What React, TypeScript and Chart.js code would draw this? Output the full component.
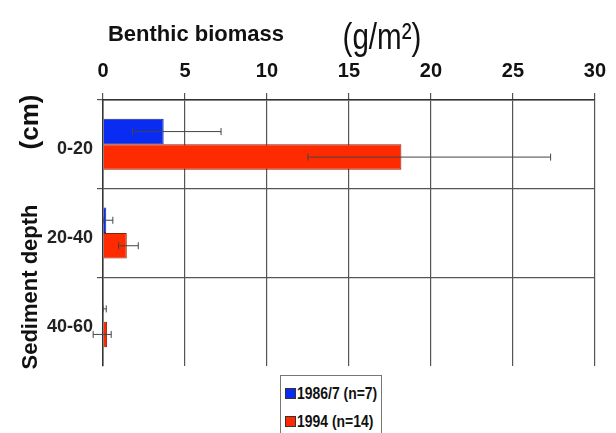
import React, { useEffect, useRef } from 'react';
import { Chart, registerables } from 'chart.js';
Chart.register(...registerables);

const categories = ['0-20', '20-40', '40-60'];
const seriesLabels = ['1986/7 (n=7)', '1994 (n=14)'];
const series1986 = [3.7, 0.2, 0.05];
const err1986Low = [1.8, 0.0, 0.0];
const err1986High = [7.2, 0.6, 0.2];
const series1994 = [18.2, 1.45, 0.25];
const err1994Low = [12.5, 0.95, -0.6];
const err1994High = [27.3, 2.15, 0.5];
const xMin = 0;
const xMax = 30;
const xStep = 5;

const BLUE = '#0a2cf2';
const RED = '#ff2b00';
const SANS = '"Liberation Sans", Arial, sans-serif';

const errorBars = {
  id: 'errorBars',
  afterDatasetsDraw(chart: any) {
    const ctx = chart.ctx;
    const xs = chart.scales.x;
    chart.data.datasets.forEach((ds: any, di: number) => {
      const meta = chart.getDatasetMeta(di);
      meta.data.forEach((bar: any, i: number) => {
        const y = bar.y;
        const x1 = xs.getPixelForValue(ds.errLow[i]);
        const x2 = xs.getPixelForValue(ds.errHigh[i]);
        ctx.save();
        ctx.strokeStyle = '#444';
        ctx.lineWidth = 1;
        ctx.beginPath();
        ctx.moveTo(x1, y);
        ctx.lineTo(x2, y);
        ctx.moveTo(x1, y - 3.5);
        ctx.lineTo(x1, y + 3.5);
        ctx.moveTo(x2, y - 3.5);
        ctx.lineTo(x2, y + 3.5);
        ctx.stroke();
        ctx.restore();
      });
    });
  },
};

export default function App() {
  const ref = useRef<HTMLCanvasElement | null>(null);
  useEffect(() => {
    if (!ref.current) return;
    const chart = new Chart(ref.current, {
      type: 'bar',
      data: {
        labels: categories,
        datasets: [
          {
            label: seriesLabels[0],
            data: series1986,
            errLow: err1986Low,
            errHigh: err1986High,
            backgroundColor: BLUE,
            borderColor: '#1a2a90',
            borderWidth: 1,
            barPercentage: 1,
            categoryPercentage: 0.575,
          } as any,
          {
            label: seriesLabels[1],
            data: series1994,
            errLow: err1994Low,
            errHigh: err1994High,
            backgroundColor: RED,
            borderColor: '#8a2010',
            borderWidth: 1,
            barPercentage: 1,
            categoryPercentage: 0.575,
          } as any,
        ],
      },
      options: {
        indexAxis: 'y',
        responsive: false,
        animation: false,
        layout: { padding: { left: 0, right: 11, top: 0, bottom: 67 } },
        plugins: { legend: { display: false }, tooltip: { enabled: false } },
        scales: {
          x: {
            type: 'linear',
            position: 'top',
            min: xMin,
            max: xMax,
            ticks: {
              stepSize: xStep,
              color: '#111',
              padding: 10,
              font: { family: SANS, size: 20, weight: 'bold' },
            },
            grid: { color: '#555', lineWidth: 1.2, tickLength: 7 },
            border: { color: '#333', width: 1.5 },
            afterFit: (s: any) => {
              s.height = 100;
            },
          },
          y: {
            type: 'category',
            offset: true,
            ticks: {
              color: '#222',
              padding: 4,
              labelOffset: 5,
              font: { family: SANS, size: 18, weight: 'bold' },
            },
            grid: {
              offset: true,
              tickLength: 6,
              lineWidth: 1.2,
              color: (c: any) => (c.type === 'tick' ? '#555' : 'rgba(0,0,0,0)'),
            },
            border: { color: '#333', width: 1.5 },
            afterFit: (s: any) => {
              s.width = 103;
            },
          },
        },
      } as any,
      plugins: [errorBars],
    });
    return () => chart.destroy();
  }, []);

  const center = (cx: number, cy: number, rot = 0, sx = 1): React.CSSProperties => ({
    position: 'absolute',
    left: cx,
    top: cy,
    transform: `translate(-50%, -50%)${rot ? ` rotate(${rot}deg)` : ''}${sx !== 1 ? ` scaleX(${sx})` : ''}`,
    whiteSpace: 'nowrap',
    lineHeight: 1,
  });

  return (
    <div
      style={{
        position: 'fixed',
        left: 0,
        top: 0,
        width: 616,
        height: 433,
        background: '#fff',
        overflow: 'hidden',
      }}
    >
      <canvas ref={ref} width={616} height={433} style={{ display: 'block' }} />
      <div style={{ ...center(196, 34), fontFamily: SANS, fontWeight: 'bold', fontSize: 22, color: '#111' }}>
        Benthic biomass
      </div>
      <div style={{ ...center(382, 36, 0, 0.8), fontFamily: SANS, fontSize: 37, color: '#111' }}>
        (g/m²)
      </div>
      <div style={{ ...center(30, 287, -90), fontFamily: SANS, fontWeight: 'bold', fontSize: 22, color: '#111' }}>
        Sediment depth
      </div>
      <div style={{ ...center(29, 122, -90), fontFamily: SANS, fontWeight: 'bold', fontSize: 26, color: '#111' }}>
        (cm)
      </div>
      <div
        style={{
          position: 'absolute',
          left: 280,
          top: 375,
          width: 102,
          height: 62,
          border: '1px solid #777',
          boxSizing: 'border-box',
          background: '#fff',
        }}
      />
      {seriesLabels.map((t, i) => (
        <div
          key={t}
          style={{
            position: 'absolute',
            left: 285,
            top: [393, 421][i] - 9,
            height: 18,
            display: 'flex',
            alignItems: 'center',
            whiteSpace: 'nowrap',
          }}
        >
          <span
            style={{
              display: 'inline-block',
              width: 9,
              height: 9,
              background: [BLUE, RED][i],
              border: '1px solid #333',
              marginRight: 1,
            }}
          />
          <span
            style={{
              display: 'inline-block',
              fontFamily: SANS,
              fontWeight: 'bold',
              fontSize: 17,
              lineHeight: 1,
              color: '#111',
              transform: 'scaleX(0.82)',
              transformOrigin: 'left center',
            }}
          >
            {t}
          </span>
        </div>
      ))}
    </div>
  );
}
